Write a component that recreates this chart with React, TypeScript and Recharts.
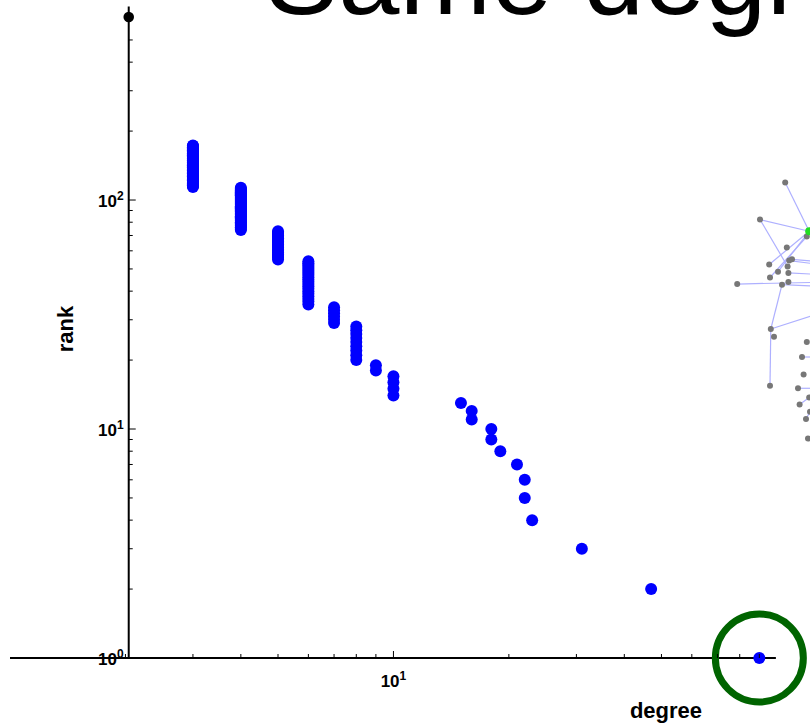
import { ScatterChart, Scatter, XAxis, YAxis, ReferenceLine, ReferenceDot } from "recharts";

// degree -> how many nodes have it (highest degree first), rank follows from the order
const degrees = [90, 47, 31, 23, 22, 21, 19, 18, 16, 15, 10, 9, 8, 7, 6, 5, 4, 3];
const nodeCounts = [1, 1, 1, 1, 2, 1, 1, 2, 2, 1, 4, 2, 9, 6, 20, 19, 40, 60];

const xMinorTicks = [2, 3, 4, 5, 6, 7, 8, 9, 10, 20, 30, 40, 50, 60, 70, 80, 90];
const yTicks = [1, 2, 3, 4, 5, 6, 7, 8, 9, 10, 20, 30, 40, 50, 60, 70, 80, 90, 100, 200, 300, 400, 500];
const yTickLabels: Record<number, string> = { 1: "0", 10: "1", 100: "2" };
const yAxisAt = 2.04;
const yTopMark = 630;
const hubDegree = 90;

// small network drawing overlaid on the right (own 0-100 layout units)
const netNodes = [
  [96.9, 27.0], [93.75, 32.7], [99.6, 35.3], [97.1, 37.0], [97.75, 38.8], [97.4, 39.0],
  [97.2, 39.9], [97.3, 40.9], [94.9, 39.6], [96.0, 40.7], [95.0, 41.6], [90.9, 42.6],
  [96.5, 42.7], [97.3, 42.3], [95.1, 49.5], [95.5, 50.7], [99.6, 51.5], [99.0, 53.8],
  [99.2, 56.5], [95.0, 58.2], [98.5, 58.6], [99.9, 60.0], [98.7, 61.1], [100.0, 62.2],
  [99.5, 63.3], [99.75, 66.3],
];
const netHub = [99.9, 34.5];
const netEdges = [
  [[96.9, 27.0], [99.9, 34.5]], [[93.75, 32.7], [99.9, 34.5]], [[93.75, 32.7], [97.2, 39.9]],
  [[94.9, 39.6], [99.9, 34.5]], [[95.0, 41.6], [99.6, 35.3]], [[96.0, 40.7], [99.9, 34.5]],
  [[90.9, 42.6], [102.5, 42.3]], [[96.5, 42.7], [102.5, 43.0]], [[97.75, 38.8], [102.5, 39.3]],
  [[97.4, 39.0], [102.5, 39.8]], [[97.3, 40.9], [102.5, 41.2]], [[95.1, 49.5], [96.5, 42.7]],
  [[95.1, 49.5], [102.5, 46.6]], [[95.1, 49.5], [95.0, 58.2]], [[99.0, 53.8], [102.5, 53.8]],
  [[98.5, 58.6], [102.5, 58.6]], [[98.7, 61.1], [99.9, 60.0]], [[99.5, 63.3], [100.0, 62.2]],
];

const rankData: { degree: number; rank: number }[] = [];
let r = 0;
degrees.forEach((d, i) => {
  for (let k = 0; k < nodeCounts[i]; k++) {
    r += 1;
    rankData.push({ degree: d, rank: r });
  }
});

const font = "'Liberation Sans', Arial, sans-serif";

function XTick(props: any) {
  const { x, y, payload } = props;
  const major = payload.value === 10;
  return (
    <g>
      <line x1={x} x2={x} y1={y} y2={y - (major ? 7 : 4)} stroke="#000" strokeWidth={1} />
      {major && (
        <text x={x} y={y + 29} textAnchor="middle" fontFamily={font} fontWeight="bold" fontSize={17} fill="#000">
          10<tspan dy={-7} fontSize={12}>1</tspan>
        </text>
      )}
    </g>
  );
}

function yTickShape(v: number) {
  return (props: any) => {
    const { cx, cy } = props;
    const label = yTickLabels[v];
    const len = v === 10 || v === 100 ? 7 : 4;
    return (
      <g>
        {v !== 1 && <line x1={cx} x2={cx + len} y1={cy} y2={cy} stroke="#000" strokeWidth={1} />}
        {label && (
          <text x={cx - 5} y={cy + 7} textAnchor="end" fontFamily={font} fontWeight="bold" fontSize={17} fill="#000">
            10<tspan dy={-7} fontSize={12}>{label}</tspan>
          </text>
        )}
      </g>
    );
  };
}

const noShape = () => <g />;

export default function App() {
  return (
    <div style={{ position: "absolute", left: 0, top: 0, width: 810, height: 728, overflow: "hidden", background: "#fff" }}>
      <div
        style={{
          position: "absolute", left: 265, top: -79, fontFamily: font, fontSize: 110, lineHeight: "110px",
          whiteSpace: "nowrap", color: "#000",
        }}
      >
        Same degree
      </div>
      <ScatterChart width={810} height={728} margin={{ top: 6.5, right: 0, bottom: 40, left: 10 }} style={{ position: "absolute", left: 0, top: 0 }}>
        <XAxis
          dataKey="degree" type="number" scale="log" domain={[1, 122]} ticks={xMinorTicks} interval={0}
          axisLine={false} tickLine={false} tickSize={0} tickMargin={0} tick={XTick}
        />
        <YAxis dataKey="rank" type="number" scale="log" domain={[1, 700]} hide />
        <XAxis xAxisId="net" type="number" dataKey="x" domain={[0, 100]} allowDataOverflow hide />
        <YAxis yAxisId="net" type="number" dataKey="y" domain={[0, 100]} reversed allowDataOverflow hide />

        {netEdges.map((e, i) => (
          <Scatter
            key={i} xAxisId="net" yAxisId="net" data={e.map(([x, y]) => ({ x, y }))}
            line={{ stroke: "#aeb0ff", strokeWidth: 1.2 }} shape={noShape} isAnimationActive={false}
          />
        ))}
        <Scatter
          xAxisId="net" yAxisId="net" data={netNodes.map(([x, y]) => ({ x, y }))} isAnimationActive={false}
          shape={(p: any) => <circle cx={p.cx} cy={p.cy} r={3} fill="#777" />}
        />
        <Scatter
          xAxisId="net" yAxisId="net" data={[{ x: netHub[0], y: netHub[1] }]} isAnimationActive={false}
          shape={(p: any) => <circle cx={p.cx} cy={p.cy} r={4} fill="#22dd22" />}
        />

        <ReferenceLine segment={[{ x: 1, y: 1 }, { x: 99.4, y: 1 }]} stroke="#000" strokeWidth={2} />
        <ReferenceLine x={yAxisAt} stroke="#000" strokeWidth={2} />
        {yTicks.map((v) => (
          <ReferenceDot key={v} x={yAxisAt} y={v} r={0} shape={yTickShape(v)} />
        ))}
        <ReferenceDot x={yAxisAt} y={yTopMark} r={5.3} fill="#000" stroke="none" />

        <Scatter
          data={rankData} isAnimationActive={false}
          shape={(p: any) => <circle cx={p.cx} cy={p.cy} r={6} fill="#0000ff" />}
        />
        <ReferenceDot x={hubDegree} y={1} r={44} fill="none" stroke="#006400" strokeWidth={7} />
      </ScatterChart>
      <div
        style={{
          position: "absolute", left: 66, top: 329, transform: "translate(-50%, -50%) rotate(-90deg)",
          fontFamily: font, fontWeight: "bold", fontSize: 22, whiteSpace: "nowrap",
        }}
      >
        rank
      </div>
      <div
        style={{
          position: "absolute", left: 666, top: 698, transform: "translateX(-50%)",
          fontFamily: font, fontWeight: "bold", fontSize: 22, whiteSpace: "nowrap",
        }}
      >
        degree
      </div>
    </div>
  );
}
